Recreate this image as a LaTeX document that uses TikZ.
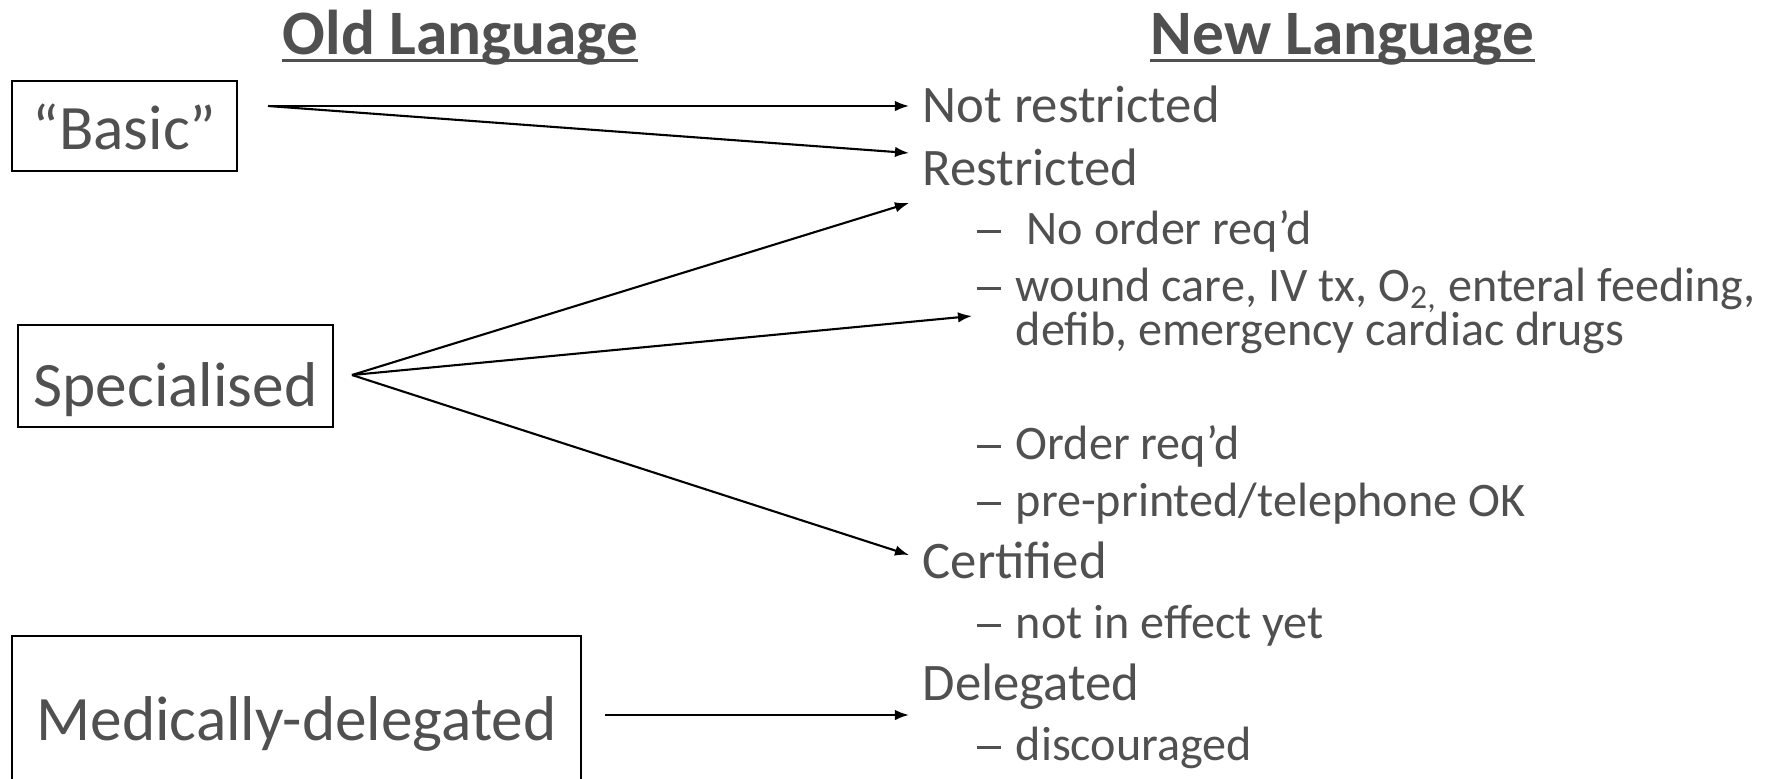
\documentclass[tikz,border=0pt]{standalone}
\usepackage{fontspec}
\setmainfont{Carlito}
\usetikzlibrary{arrows.meta}
\definecolor{textgray}{RGB}{80,80,80}
\newcommand{\ndash}{\rule[0.22em]{0.24cm}{0.075em}}
\tikzset{
  txt/.style={anchor=base west, inner sep=0pt, text=textgray},
  main/.style={txt, font=\fontsize{15pt}{18pt}\selectfont},
  sub/.style={txt, font=\fontsize{13.7pt}{16pt}\selectfont},
  head/.style={txt, font=\fontsize{18pt}{21pt}\selectfont\bfseries},
  oldbox/.style={draw=black, line width=0.016cm, text=textgray, inner sep=0pt,
                 font=\fontsize{18pt}{21pt}\selectfont},
  arr/.style={draw=black, line width=0.021cm, -{Latex[length=0.14cm,width=0.105cm]}},
  uline/.style={draw=textgray, line width=0.028cm}
}
\begin{document}
\begin{tikzpicture}[x=0.01cm,y=-0.01cm]
\useasboundingbox (0,0) rectangle (1768,778);
\clip (0,0) rectangle (1768,778);
% headings
\node[head] (old) at (282,54) {Old Language};
\node[head] (new) at (1150,54) {New Language};
\draw[uline] ([yshift=-0.065cm]old.base west) -- ([yshift=-0.065cm]old.base east);
\draw[uline] ([yshift=-0.065cm]new.base west) -- ([yshift=-0.065cm]new.base east);
% old-language boxes
\node[oldbox, minimum width=2.25cm, minimum height=0.90cm] (basic) at (124.5,126) {\raisebox{-0.23cm}[0pt][0pt]{“Basic”}};
\node[oldbox, minimum width=3.15cm, minimum height=1.02cm] (spec) at (175.5,376) {\raisebox{-0.30cm}[0pt][0pt]{Specialised}};
\node[oldbox, minimum width=5.69cm, minimum height=1.64cm] (med) at (296.5,718) {\raisebox{-0.22cm}[0pt][0pt]{Medically-delegated}};
% new-language items
\node[main] (notr) at (922,122) {Not restricted};
\node[main] (restr) at (922,185) {Restricted};
\node[sub] (noord) at (976,244) {\makebox[0.50cm][l]{\ndash}No order req’d};
\node[sub] (wound) at (976,301) {\makebox[0.39cm][l]{\ndash}wound care, IV tx, O\textsubscript{2,} enteral feeding,};
\node[sub] (defib) at (1015,345) {defib, emergency cardiac drugs};
\node[sub] (ord) at (976,459) {\makebox[0.39cm][l]{\ndash}Order req’d};
\node[sub] (pre) at (976,516) {\makebox[0.39cm][l]{\ndash}pre-printed/telephone OK};
\node[main] (cert) at (922,578) {Certified};
\node[sub] (noteff) at (976,638) {\makebox[0.39cm][l]{\ndash}not in effect yet};
\node[main] (deleg) at (922,700) {Delegated};
\node[sub] (disc) at (976,760) {\makebox[0.39cm][l]{\ndash}discouraged};
% connector end points
\coordinate (bsrc) at (268,106);
\coordinate (ssrc) at (352,375);
\coordinate (msrc) at (605,715);
\coordinate (notrin) at (909,106);
\coordinate (restrin) at (909,153);
\coordinate (restrin2) at (909,203);
\coordinate (woundin) at (972,316);
\coordinate (certin) at (909,555);
\coordinate (delegin) at (909,715);
% connectors
\draw[arr] (bsrc) -- (notrin);
\draw[arr] (bsrc) -- (restrin);
\draw[arr] (ssrc) -- (restrin2);
\draw[arr] (ssrc) -- (woundin);
\draw[arr] (ssrc) -- (certin);
\draw[arr] (msrc) -- (delegin);
\end{tikzpicture}
\end{document}
